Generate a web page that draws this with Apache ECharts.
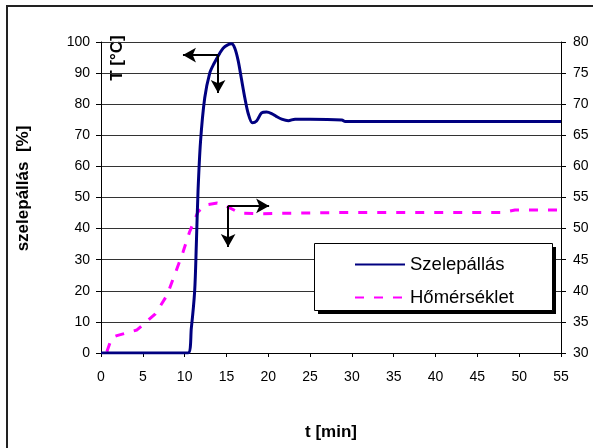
<!DOCTYPE html>
<html>
<head>
	<meta charset="utf-8">
	<title>Szelepállás - Hőmérséklet</title>
	<script src="https://cdn.jsdelivr.net/npm/echarts@6/dist/echarts.min.js"></script>
	<style>
		html, body { margin: 0; padding: 0; background: #fff; }
		#chart { width: 593px; height: 448px; }
	</style>
</head>
<body>
	<div id="chart"></div>
	<script>
		// adatok (t [min], érték)
		var seriesNames = ['Szelepállás', 'Hőmérséklet'];
		var xTicks = [0, 5, 10, 15, 20, 25, 30, 35, 40, 45, 50, 55];
		var leftTicks = [0, 10, 20, 30, 40, 50, 60, 70, 80, 90, 100];
		var rightTicks = [30, 35, 40, 45, 50, 55, 60, 65, 70, 75, 80];

		// szelepállás [%] - bal tengely
		var szelep = [
			[0, 0], [10.4, 0], [10.8, 8], [11.2, 20], [11.4, 35], [11.6, 52], [11.9, 68],
			[12.4, 82], [13, 90], [13.5, 93], [14.2, 96.4], [14.6, 98], [15.1, 99],
			[15.6, 99.4], [16, 98], [16.4, 94], [16.8, 88], [17.2, 82], [17.6, 77],
			[18.1, 74], [18.6, 74.6], [19.2, 77.2], [19.8, 77.5], [20.4, 77], [21, 76],
			[21.6, 75.2], [22.4, 74.7], [23.2, 75.2], [25, 75.2], [28.8, 74.9],
			[29.2, 74.4], [55, 74.4]
		];

		// hőmérséklet [°C] - jobb tengely
		var homerseklet = [
			[0.7, 30.2], [1.3, 32.5], [1.9, 32.8], [4.3, 33.7], [6.5, 36.3], [7.9, 39.3],
			[8.9, 42.9], [9.8, 46.2], [10.6, 49.5], [11.6, 52.7], [12.5, 53.8],
			[13.9, 54.1], [15, 53.6], [16.6, 52.5], [19, 52.4], [30, 52.6], [48, 52.6],
			[49.5, 53], [55, 53]
		];

		// nyilak (t, szelepállás koordinátákban)
		var arrowLines = [
			[[14, 95.8], [9.8, 95.8]],
			[[14, 95.8], [14, 83.6]],
			[[15.2, 47.3], [20.1, 47.3]],
			[[15.2, 47.3], [15.2, 34.1]]
		];

		var font = 'Liberation Sans, Arial, sans-serif';
		var chart = echarts.init(document.getElementById('chart'));

		var option = {
			animation: false,
			backgroundColor: '#fff',
			textStyle: { fontFamily: font, color: '#000' },
			grid: { left: 101, right: 32, top: 42, bottom: 95 },
			legend: {
				data: seriesNames,
				orient: 'vertical',
				left: 314,
				top: 243,
				padding: [12, 20, 8, 40],
				itemWidth: 50,
				itemHeight: 14,
				itemGap: 14,
				itemStyle: { opacity: 0 },
				textStyle: { fontFamily: font, fontSize: 18.5, color: '#000' }
			},
			xAxis: {
				type: 'value',
				min: 0,
				max: 55,
				interval: 5,
				name: 't [min]',
				nameLocation: 'middle',
				nameGap: 71,
				nameTextStyle: { fontFamily: font, fontSize: 17, fontWeight: 'bold', color: '#000' },
				axisLine: { onZero: false, lineStyle: { color: '#000', width: 1 } },
				axisTick: { show: true, length: 4, lineStyle: { color: '#000' } },
				axisLabel: {
					margin: 17, fontSize: 14, color: '#000', fontFamily: font,
					formatter: function (v) { return xTicks.indexOf(v) >= 0 ? String(v) : ''; }
				},
				splitLine: { show: false }
			},
			yAxis: [{
				type: 'value',
				min: 0,
				max: 100,
				interval: 10,
				name: 'szelepállás  [%]',
				nameLocation: 'middle',
				nameGap: 69,
				nameTextStyle: { fontFamily: font, fontSize: 17, fontWeight: 'bold', color: '#000', padding: [0, 0, 0, 18] },
				axisLine: { show: true, lineStyle: { color: '#000', width: 1 } },
				axisTick: { show: true, length: 5, lineStyle: { color: '#000' } },
				axisLabel: {
					margin: 11, fontSize: 14, color: '#000', fontFamily: font,
					formatter: function (v) { return leftTicks.indexOf(v) >= 0 ? String(v) : ''; }
				},
				splitLine: { show: true, lineStyle: { color: '#333', width: 1 } }
			}, {
				type: 'value',
				min: 30,
				max: 80,
				interval: 5,
				position: 'right',
				axisLine: { show: true, lineStyle: { color: '#000', width: 1 } },
				axisTick: { show: true, length: 5, lineStyle: { color: '#000' } },
				axisLabel: {
					margin: 12, fontSize: 14, color: '#000', fontFamily: font,
					formatter: function (v) { return rightTicks.indexOf(v) >= 0 ? String(v) : ''; }
				},
				splitLine: { show: false }
			}],
			series: [{
				name: seriesNames[0],
				type: 'line',
				yAxisIndex: 0,
				data: szelep,
				showSymbol: false,
				symbol: 'none',
				smooth: 0.3,
				color: '#000080',
				lineStyle: { color: '#000080', width: 3 },
				z: 3,
				markLine: {
					silent: true,
					symbol: ['none', 'arrow'],
					symbolSize: [11, 13],
					label: { show: false },
					lineStyle: { color: '#000', width: 2, type: 'solid' },
					data: arrowLines.map(function (p) {
						return [{ coord: p[0] }, { coord: p[1] }];
					})
				}
			}, {
				name: seriesNames[1],
				type: 'line',
				yAxisIndex: 1,
				data: homerseklet,
				showSymbol: false,
				symbol: 'none',
				color: '#ff00ff',
				lineStyle: { color: '#ff00ff', width: 3, type: [9, 10] },
				z: 2
			}],
			graphic: [{
				// külső keret
				type: 'rect',
				shape: { x: 7, y: 6, width: 620, height: 470 },
				style: { fill: null, stroke: '#222', lineWidth: 2 },
				silent: true,
				z: -1
			}, {
				// jelmagyarázat árnyéka
				type: 'rect',
				shape: { x: 318, y: 247, width: 238, height: 67 },
				style: { fill: '#000' },
				silent: true,
				z: 1
			}, {
				// jelmagyarázat doboza
				type: 'rect',
				shape: { x: 314.5, y: 243.5, width: 238, height: 67 },
				style: { fill: '#fff', stroke: '#000', lineWidth: 1 },
				silent: true,
				z: 2
			}, {
				type: 'text',
				x: 117,
				y: 58,
				rotation: Math.PI / 2,
				style: {
					text: 'T [°C]',
					fontFamily: font,
					fontSize: 17,
					fontWeight: 'bold',
					fill: '#000',
					align: 'center',
					verticalAlign: 'middle'
				}
			}]
		};

		chart.setOption(option);
	</script>
</body>
</html>
